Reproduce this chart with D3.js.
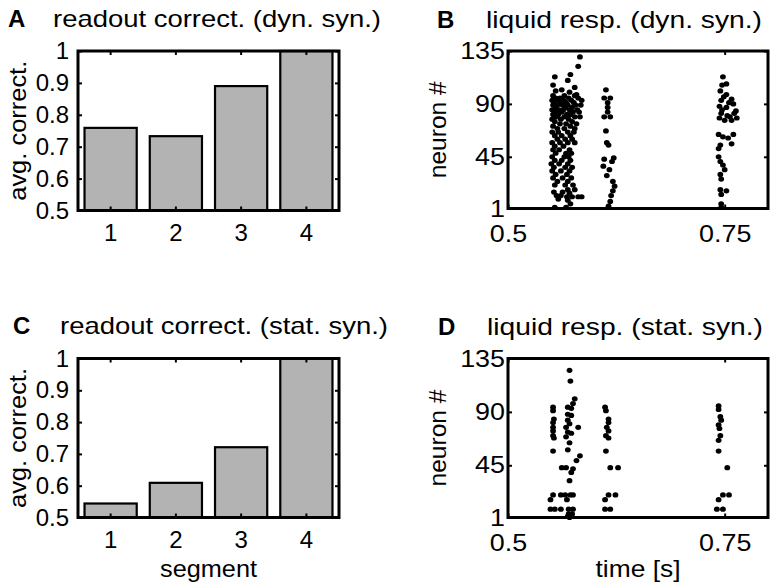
<!DOCTYPE html>
<html>
<head>
<meta charset="utf-8">
<script src="https://cdn.jsdelivr.net/npm/d3@7"></script>
<style>
  body { margin: 0; background: #fff; }
  text { font-family: "Liberation Sans", Arial, Helvetica, sans-serif; fill: #000; }
</style>
</head>
<body>
<svg id="fig" width="771" height="587"></svg>
<script>
// ---- data ----
const segments = [1, 2, 3, 4];
const correctDyn = [0.759, 0.733, 0.890, 1.0];
const correctStat = [0.544, 0.609, 0.721, 1.0];
const correctTicks = [0.5, 0.6, 0.7, 0.8, 0.9, 1];
const timeTicks = [0.5, 0.75];
const neuronTicks = [1, 45, 90, 135];

// spikes as [time (s), neuron #]
const spikesDyn = [
  [0.583, 130], [0.581, 122],
  [0.572, 115], [0.554, 113], [0.569, 110], [0.552, 106], [0.577, 104], [0.562, 102], [0.555, 101], [0.571, 100], [0.579, 98],
  [0.552, 97], [0.565, 97], [0.577, 97],
  [0.555, 95], [0.560, 95], [0.570, 95], [0.581, 95],
  [0.551, 93], [0.558, 93], [0.564, 93], [0.573, 93], [0.585, 93],
  [0.553, 91], [0.561, 91], [0.567, 91], [0.576, 91],
  [0.552, 89], [0.557, 89], [0.563, 89], [0.569, 89], [0.578, 89], [0.584, 89],
  [0.555, 87], [0.566, 87], [0.574, 87],
  [0.551, 85], [0.559, 85], [0.564, 85], [0.571, 85], [0.580, 85],
  [0.554, 83], [0.562, 83], [0.575, 83], [0.582, 83],
  [0.552, 81], [0.558, 81], [0.568, 81], [0.572, 81],
  [0.556, 79], [0.565, 79], [0.577, 79], [0.583, 79],
  [0.551, 77], [0.561, 77], [0.570, 77],
  [0.554, 75], [0.574, 75],
  [0.560, 73], [0.567, 73], [0.579, 73],
  [0.552, 71], [0.572, 71],
  [0.557, 69], [0.565, 69], [0.577, 69],
  [0.551, 66], [0.558, 66], [0.569, 66], [0.576, 66],
  [0.554, 63], [0.562, 63], [0.572, 63],
  [0.557, 60], [0.566, 60], [0.574, 60],
  [0.551, 57], [0.560, 57], [0.569, 57], [0.577, 57],
  [0.554, 54], [0.564, 54],
  [0.552, 51], [0.559, 51], [0.571, 51],
  [0.555, 48], [0.567, 48], [0.573, 48],
  [0.551, 45], [0.565, 45], [0.570, 45],
  [0.554, 42], [0.562, 42], [0.572, 42],
  [0.550, 39], [0.559, 39], [0.569, 39],
  [0.553, 36], [0.566, 36], [0.574, 36],
  [0.551, 33], [0.561, 33], [0.571, 33],
  [0.555, 30], [0.568, 30],
  [0.552, 27], [0.563, 27], [0.573, 27],
  [0.557, 24], [0.569, 24],
  [0.554, 21], [0.566, 21], [0.575, 21],
  [0.569, 17], [0.577, 17], [0.553, 15], [0.563, 15], [0.571, 14],
  [0.556, 12], [0.561, 12], [0.568, 11], [0.574, 11], [0.581, 11], [0.585, 11],
  [0.558, 9], [0.569, 8], [0.572, 5], [0.554, 2], [0.567, 2],
  // second burst
  [0.613, 102], [0.611, 95], [0.618, 95], [0.615, 91], [0.615, 87], [0.615, 83], [0.611, 79], [0.618, 79],
  [0.613, 67], [0.614, 57], [0.616, 55], [0.611, 43], [0.620, 41], [0.622, 44], [0.610, 37], [0.617, 34],
  [0.614, 29], [0.621, 24], [0.623, 20], [0.621, 16], [0.619, 12], [0.618, 7], [0.616, 3],
  // third burst
  [0.748, 113], [0.747, 106], [0.752, 107], [0.745, 101], [0.752, 98], [0.749, 96], [0.758, 94], [0.746, 93],
  [0.755, 91], [0.760, 90], [0.744, 88], [0.752, 87], [0.747, 85], [0.763, 84], [0.746, 82], [0.761, 82],
  [0.753, 80], [0.756, 79], [0.744, 78], [0.764, 78], [0.750, 76], [0.758, 76],
  [0.743, 64], [0.748, 62], [0.754, 61], [0.760, 64], [0.758, 56], [0.745, 55], [0.743, 52],
  [0.743, 45], [0.745, 41], [0.748, 38], [0.750, 34], [0.745, 30], [0.746, 26],
  [0.745, 17], [0.752, 16], [0.746, 13], [0.746, 5], [0.746, 2]
];

const spikesStat = [
  [0.552, 94], [0.552, 91], [0.553, 84], [0.552, 81], [0.552, 77], [0.552, 74], [0.552, 70], [0.553, 68], [0.552, 57],
  [0.552, 20], [0.561, 20], [0.566, 20], [0.572, 20], [0.575, 20],
  [0.549, 16], [0.568, 16],
  [0.549, 8], [0.554, 8], [0.561, 8], [0.570, 8], [0.575, 8],
  [0.570, 4], [0.574, 4], [0.569, 2], [0.573, 2], [0.571, 1],
  [0.571, 125], [0.572, 116], [0.577, 101], [0.575, 97], [0.569, 94], [0.573, 93], [0.569, 88], [0.573, 87],
  [0.569, 83], [0.571, 80], [0.567, 77], [0.581, 77], [0.569, 73], [0.573, 72], [0.567, 69], [0.571, 64],
  [0.569, 58], [0.583, 53], [0.579, 49], [0.562, 43], [0.567, 43], [0.575, 42], [0.573, 39], [0.571, 32],
  // second burst
  [0.612, 94], [0.613, 91], [0.616, 84], [0.616, 81], [0.614, 77], [0.616, 74], [0.613, 70], [0.616, 68], [0.613, 57],
  [0.618, 43], [0.627, 43], [0.616, 20], [0.624, 20], [0.612, 16], [0.612, 8], [0.618, 8],
  // third burst
  [0.743, 95], [0.743, 92], [0.745, 86], [0.746, 83], [0.743, 79], [0.744, 76], [0.745, 70], [0.743, 66], [0.743, 57],
  [0.753, 43], [0.748, 20], [0.755, 20], [0.743, 16], [0.741, 8], [0.748, 8]
];

// ---- drawing ----
const svg = d3.select("#fig");
const FS = 24;

// the original text runs a bit wider than Liberation Sans, so stretch to measured widths
function label(x, y, str, len, opts = {}) {
  const t = svg.append("text")
    .attr("font-size", FS)
    .attr("text-anchor", opts.anchor || "start")
    .text(str);
  if (opts.rotate) t.attr("transform", `translate(${x},${y}) rotate(-90)`);
  else t.attr("x", x).attr("y", y);
  if (len) t.attr("textLength", len).attr("lengthAdjust", "spacingAndGlyphs");
  if (opts.bold) t.attr("font-weight", "bold");
  return t;
}

function title(letter, text, lx, tx, y, len) {
  label(lx, y, letter, null, { bold: true });
  label(tx, y, text, len);
}

// matlab-ish box with inward ticks on all four sides
function frame(g, x, y, box, xTicks, yTicks, xPad, yPad, stretch) {
  const tl = 4;
  const styleAxis = sel => {
    sel.select(".domain").remove();
    sel.selectAll(".tick line").attr("stroke", "#000").attr("stroke-width", 2);
    sel.selectAll(".tick text").attr("font-size", FS).attr("font-family", null);
    if (stretch > 1) {
      sel.selectAll(".tick text").each(function () {
        const w = this.getComputedTextLength();
        if (w > 0) d3.select(this).attr("textLength", w * stretch).attr("lengthAdjust", "spacingAndGlyphs");
      });
    }
  };
  g.append("g").attr("transform", `translate(0,${box.y1})`)
    .call(d3.axisBottom(x).tickValues(xTicks).tickFormat(d => String(d)).tickSizeInner(-tl).tickSizeOuter(0).tickPadding(xPad))
    .call(styleAxis);
  g.append("g").attr("transform", `translate(0,${box.y0})`)
    .call(d3.axisTop(x).tickValues(xTicks).tickFormat("").tickSizeInner(-tl).tickSizeOuter(0))
    .call(styleAxis);
  g.append("g").attr("transform", `translate(${box.x0},0)`)
    .call(d3.axisLeft(y).tickValues(yTicks).tickFormat(d => String(d)).tickSizeInner(-tl).tickSizeOuter(0).tickPadding(yPad))
    .call(styleAxis);
  g.append("g").attr("transform", `translate(${box.x1},0)`)
    .call(d3.axisRight(y).tickValues(yTicks).tickFormat("").tickSizeInner(-tl).tickSizeOuter(0))
    .call(styleAxis);
  g.append("rect")
    .attr("x", box.x0).attr("y", box.y0)
    .attr("width", box.x1 - box.x0).attr("height", box.y1 - box.y0)
    .attr("fill", "none").attr("stroke", "#000").attr("stroke-width", 3);
}

function barPanel(box, values) {
  const g = svg.append("g");
  const x = d3.scaleBand().domain(segments).range([box.x0, box.x1]).paddingInner(0.2).paddingOuter(0.1);
  const y = d3.scaleLinear().domain([0.5, 1]).range([box.y1, box.y0]);
  g.selectAll("rect.bar")
    .data(segments)
    .join("rect")
    .attr("class", "bar")
    .attr("x", d => x(d))
    .attr("width", x.bandwidth())
    .attr("y", (d, i) => y(values[i]))
    .attr("height", (d, i) => y(0.5) - y(values[i]))
    .attr("fill", "#b3b3b3")
    .attr("stroke", "#000")
    .attr("stroke-width", 2.2);
  frame(g, x, y, box, segments, correctTicks, 13, 9, 1);
  label(26, (box.y0 + box.y1) / 2, "avg. correct.", 140, { rotate: true, anchor: "middle" });
}

function rasterPanel(box, spikes) {
  const g = svg.append("g");
  const x = d3.scaleLinear().domain([0.5, 0.8]).range([box.x0, box.x1]);
  const y = d3.scaleLinear().domain([1, 135]).range([box.y1, box.y0]);
  g.selectAll("ellipse")
    .data(spikes)
    .join("ellipse")
    .attr("cx", d => x(d[0]))
    .attr("cy", d => y(d[1]))
    .attr("rx", 2.9)
    .attr("ry", 2.6)
    .attr("fill", "#000");
  frame(g, x, y, box, timeTicks, neuronTicks, 16, 3, 1.12);
  label(446, (box.y0 + box.y1) / 2, "neuron #", 97, { rotate: true, anchor: "middle" });
}

const boxA = { x0: 78, x1: 339, y0: 51, y1: 210.5 };
const boxB = { x0: 508, x1: 768, y0: 51, y1: 208.5 };
const boxC = { x0: 78, x1: 339, y0: 358.5, y1: 517.5 };
const boxD = { x0: 508, x1: 768, y0: 358.5, y1: 517.5 };

title("A", "readout correct. (dyn. syn.)", 8, 53, 27, 328);
title("B", "liquid resp. (dyn. syn.)", 437, 486, 28, 276);
title("C", "readout correct. (stat. syn.)", 13, 60, 334, 328);
title("D", "liquid resp. (stat. syn.)", 438, 487, 335, 276);

barPanel(boxA, correctDyn);
rasterPanel(boxB, spikesDyn);
barPanel(boxC, correctStat);
rasterPanel(boxD, spikesStat);

label((boxC.x0 + boxC.x1) / 2, 577, "segment", 97, { anchor: "middle" });
label((boxD.x0 + boxD.x1) / 2, 577, "time [s]", 85, { anchor: "middle" });
</script>
</body>
</html>
